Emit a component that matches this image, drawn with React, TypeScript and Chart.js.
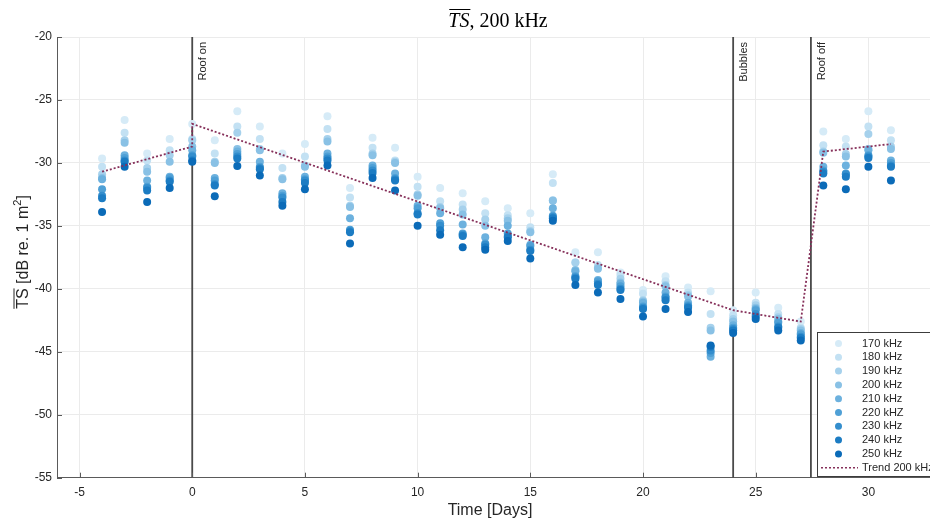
import React, { useEffect, useRef } from "react";
import { Chart, registerables } from "chart.js";

Chart.register(...registerables);

const days = [-4, -3, -2, -1, 0, 1, 2, 3, 4, 5, 6, 7, 8, 9, 10, 11, 12, 13, 14, 15, 16, 17, 18, 19, 20, 21, 22, 23, 24, 25, 26, 27, 28, 29, 30, 31];

const ts170 = [-29.65, -26.6, -29.25, -28.1, -26.9, -28.2, -25.9, -27.1, -29.25, -28.5, -26.3, -32.0, -28.0, -28.8, -31.1, -32.0, -32.4, -33.05, -33.6, -34.0, -30.9, -37.1, -37.1, -38.7, -40.1, -39.0, -39.9, -40.2, -41.7, -40.3, -41.5, -42.6, -27.5, -28.1, -25.9, -27.4];
const ts180 = [-30.3, -27.6, -29.8, -29.0, -28.1, -29.25, -27.1, -28.1, -30.4, -29.5, -27.3, -32.75, -28.8, -29.8, -31.9, -33.05, -33.3, -34.0, -34.15, -35.1, -31.6, -37.9, -38.1, -38.9, -40.4, -39.4, -40.3, -42.0, -42.1, -41.1, -42.0, -43.1, -28.6, -28.7, -27.1, -28.2];
const ts190 = [-30.9, -28.2, -30.4, -29.4, -28.2, -29.9, -27.6, -28.9, -31.2, -30.2, -28.1, -33.4, -29.25, -29.9, -32.5, -33.5, -33.7, -34.5, -34.4, -35.4, -32.97, -37.9, -38.3, -39.2, -40.9, -39.7, -40.5, -43.1, -42.4, -41.3, -42.25, -43.2, -29.1, -29.3, -27.7, -28.7];
const ts200 = [-31.2, -28.4, -30.7, -29.9, -28.7, -30.0, -28.9, -29.0, -31.3, -30.3, -28.3, -33.5, -29.4, -30.0, -32.6, -33.6, -34.1, -35.0, -34.6, -35.5, -33.0, -38.5, -38.4, -39.5, -41.0, -39.8, -40.6, -43.3, -42.6, -41.5, -42.4, -43.3, -29.2, -29.5, -28.9, -28.9];
const ts210 = [-31.3, -29.4, -31.4, -31.1, -29.0, -31.2, -29.1, -29.9, -32.4, -31.1, -29.25, -34.4, -30.2, -30.85, -33.4, -34.0, -34.9, -35.9, -35.0, -36.5, -33.6, -38.6, -39.3, -39.6, -41.1, -40.3, -41.1, -45.4, -42.9, -41.6, -42.6, -43.5, -30.3, -30.2, -29.0, -29.8];
const ts220 = [-32.1, -29.6, -31.9, -31.2, -29.4, -31.4, -29.3, -30.3, -32.6, -31.3, -29.5, -35.3, -30.4, -31.2, -33.6, -34.8, -35.6, -36.4, -35.6, -36.6, -34.2, -39.0, -39.4, -39.8, -41.4, -40.6, -41.3, -45.1, -43.1, -41.7, -42.7, -43.6, -30.6, -30.85, -29.4, -30.0];
const ts230 = [-32.6, -29.8, -32.0, -31.4, -29.5, -31.7, -29.5, -30.4, -32.75, -31.4, -29.65, -35.4, -30.6, -31.3, -34.0, -35.0, -35.7, -36.5, -35.8, -36.9, -34.3, -39.1, -39.6, -40.0, -41.5, -40.7, -41.4, -44.9, -43.2, -42.0, -43.0, -43.8, -30.7, -30.9, -29.5, -30.2];
const ts240 = [-32.8, -29.9, -32.2, -31.5, -29.8, -31.8, -29.65, -30.5, -33.1, -31.6, -29.8, -35.5, -30.8, -31.4, -34.1, -35.35, -35.8, -36.7, -35.9, -37.0, -34.4, -39.2, -39.7, -40.1, -41.6, -40.9, -41.5, -44.6, -43.3, -42.2, -43.1, -43.9, -30.85, -31.1, -29.6, -30.3];
const ts250 = [-33.9, -30.3, -33.1, -32.0, -29.9, -32.65, -30.25, -31.0, -33.4, -32.1, -30.2, -36.4, -31.2, -32.2, -35.0, -35.7, -36.7, -36.9, -36.2, -37.6, -34.6, -39.7, -40.3, -40.8, -42.2, -41.6, -41.85, -44.5, -43.5, -42.4, -43.3, -44.1, -31.8, -32.1, -30.3, -31.4];

const seriesValues = [ts170, ts180, ts190, ts200, ts210, ts220, ts230, ts240, ts250];
const seriesLabels = ["170 kHz", "180 kHz", "190 kHz", "200 kHz", "210 kHz", "220 kHZ", "230 kHz", "240 kHz", "250 kHz"];
const seriesColors = ["#d6ebf7", "#c3e1f3", "#a6d1ec", "#89c1e5", "#6cb1de", "#4fa0d6", "#348ecd", "#1c7cc3", "#0b6bb8"];

const trendDays = [-4, 0, 0, 24, 27, 28, 31];
const trendValues = [-30.7, -28.7, -26.9, -41.7, -42.6, -29.1, -28.5];
const trendLabel = "Trend 200 kHz";
const trendColor = "#86305a";

const eventDays = [0, 24, 27.45];
const eventLabels = ["Roof on", "Bubbles", "Roof off"];

const xTicks = [-5, 0, 5, 10, 15, 20, 25, 30];
const yTicks = [-55, -50, -45, -40, -35, -30, -25, -20];

const SANS = '"Liberation Sans", Arial, Helvetica, sans-serif';
const SERIF = '"Liberation Serif", "Times New Roman", serif';
const TEXT = "#262626";

const overlayPlugin = {
  id: "overlay",
  afterDraw(chart: any) {
    const ctx = chart.ctx;
    const xs = chart.scales.x;
    const ys = chart.scales.y;
    const area = chart.chartArea;
    ctx.save();

    // inner ticks
    ctx.strokeStyle = "#5a5a5a";
    ctx.lineWidth = 1;
    ctx.beginPath();
    xTicks.forEach((t) => {
      const px = Math.round(xs.getPixelForValue(t)) + 0.5;
      ctx.moveTo(px, area.bottom);
      ctx.lineTo(px, area.bottom - 5);
    });
    yTicks.forEach((t) => {
      const py = Math.round(ys.getPixelForValue(t)) + 0.5;
      ctx.moveTo(area.left, py);
      ctx.lineTo(area.left + 5, py);
    });
    ctx.stroke();

    // event labels
    ctx.fillStyle = TEXT;
    ctx.font = `11px ${SANS}`;
    ctx.textAlign = "right";
    ctx.textBaseline = "middle";
    eventDays.forEach((d, i) => {
      const px = xs.getPixelForValue(d);
      ctx.save();
      ctx.translate(px + 11, area.top + 5);
      ctx.rotate(-Math.PI / 2);
      ctx.fillText(eventLabels[i], 0, 0);
      ctx.restore();
    });

    // title
    ctx.textBaseline = "alphabetic";
    ctx.textAlign = "left";
    const tFont1 = `italic 20px ${SERIF}`;
    const tFont2 = `20px ${SERIF}`;
    ctx.font = tFont1;
    const w1 = ctx.measureText("TS").width;
    ctx.font = tFont2;
    const w2 = ctx.measureText(", 200 kHz").width;
    const tx = 498 - (w1 + w2) / 2;
    const ty = 27;
    ctx.fillStyle = "#000";
    ctx.font = tFont1;
    ctx.fillText("TS", tx, ty);
    ctx.font = tFont2;
    ctx.fillText(", 200 kHz", tx + w1, ty);
    ctx.strokeStyle = "#000";
    ctx.lineWidth = 1;
    ctx.beginPath();
    ctx.moveTo(tx + 1, 9.5);
    ctx.lineTo(tx + w1 + 1, 9.5);
    ctx.stroke();

    // x axis title
    ctx.fillStyle = TEXT;
    ctx.font = `16px ${SANS}`;
    ctx.textAlign = "center";
    ctx.textBaseline = "middle";
    ctx.fillText("Time [Days]", 490, 511);

    // y axis title
    ctx.save();
    ctx.translate(22, 252);
    ctx.rotate(-Math.PI / 2);
    const f1 = `16px ${SANS}`;
    const f2 = `11px ${SANS}`;
    ctx.font = f1;
    const a = "TS [dB re. 1 m";
    const wa = ctx.measureText(a).width;
    const wts = ctx.measureText("TS").width;
    ctx.font = f2;
    const wsup = ctx.measureText("2").width;
    ctx.font = f1;
    const wb = ctx.measureText("]").width;
    const total = wa + wsup + wb;
    let cx = -total / 2;
    ctx.textAlign = "left";
    ctx.textBaseline = "alphabetic";
    const base = 6;
    ctx.fillText(a, cx, base);
    ctx.strokeStyle = TEXT;
    ctx.lineWidth = 1;
    ctx.beginPath();
    ctx.moveTo(cx, base - 14);
    ctx.lineTo(cx + wts, base - 14);
    ctx.stroke();
    cx += wa;
    ctx.font = f2;
    ctx.fillText("2", cx, base - 7);
    cx += wsup;
    ctx.font = f1;
    ctx.fillText("]", cx, base);
    ctx.restore();

    // legend
    const lx = 817;
    const ly = 332;
    const lw = 130;
    const lh = 144;
    ctx.fillStyle = "#ffffff";
    ctx.fillRect(lx, ly, lw, lh);
    ctx.strokeStyle = "#3c3c3c";
    ctx.lineWidth = 1;
    ctx.strokeRect(lx + 0.5, ly + 0.5, lw, lh);
    ctx.font = `11px ${SANS}`;
    ctx.textAlign = "left";
    ctx.textBaseline = "middle";
    const rowH = 13.8;
    seriesLabels.forEach((lab, i) => {
      const yy = ly + 11.5 + i * rowH;
      ctx.fillStyle = seriesColors[i];
      ctx.beginPath();
      ctx.arc(838.5, yy, 3.5, 0, Math.PI * 2);
      ctx.fill();
      ctx.fillStyle = TEXT;
      ctx.fillText(lab, 862, yy);
    });
    const yyT = ly + 11.5 + 9 * rowH;
    ctx.strokeStyle = trendColor;
    ctx.lineWidth = 1.6;
    ctx.setLineDash([2, 2]);
    ctx.beginPath();
    ctx.moveTo(821, yyT);
    ctx.lineTo(858, yyT);
    ctx.stroke();
    ctx.setLineDash([]);
    ctx.fillStyle = TEXT;
    ctx.fillText(trendLabel, 862, yyT);

    ctx.restore();
  },
};

export default function App() {
  const ref = useRef<HTMLCanvasElement | null>(null);

  useEffect(() => {
    document.body.style.margin = "0";
    const canvas = ref.current;
    if (!canvas) return;

    const datasets: any[] = [];
    datasets.push({
      type: "scatter",
      label: trendLabel,
      data: trendDays.map((d, i) => ({ x: d, y: trendValues[i] })),
      showLine: true,
      borderColor: trendColor,
      borderWidth: 1.8,
      borderDash: [2, 2],
      pointRadius: 0,
      fill: false,
      order: 0,
    });
    seriesValues.forEach((vals, si) => {
      datasets.push({
        type: "scatter",
        label: seriesLabels[si],
        data: days.map((d, i) => ({ x: d, y: vals[i] })),
        backgroundColor: seriesColors[si],
        borderColor: seriesColors[si],
        borderWidth: 0,
        pointRadius: 4,
        pointStyle: "circle",
        order: 10 - si,
      });
    });
    eventDays.forEach((d, i) => {
      datasets.push({
        type: "scatter",
        label: eventLabels[i],
        data: [
          { x: d, y: -55 },
          { x: d, y: -20 },
        ],
        showLine: true,
        borderColor: "#4a4a4a",
        borderWidth: 1.8,
        pointRadius: 0,
        order: 20,
      });
    });

    const chart = new Chart(canvas, {
      type: "scatter",
      data: { datasets },
      options: {
        animation: false,
        responsive: false,
        devicePixelRatio: 1,
        layout: { padding: { left: 0, top: 37, right: 2, bottom: 0 } },
        plugins: {
          legend: { display: false },
          tooltip: { enabled: false },
          title: { display: false },
        },
        scales: {
          x: {
            type: "linear",
            min: -6,
            max: 33,
            afterFit: (s: any) => {
              s.height = 44.3;
            },
            ticks: {
              stepSize: 5,
              includeBounds: false,
              color: TEXT,
              font: { family: SANS, size: 12 },
              padding: 8,
              maxRotation: 0,
            },
            grid: { color: "#ebebeb", drawTicks: false, lineWidth: 1 },
            border: { display: true, color: "#5a5a5a", width: 1 },
          },
          y: {
            type: "linear",
            min: -55,
            max: -20,
            afterFit: (s: any) => {
              s.width = 57;
            },
            ticks: {
              stepSize: 5,
              color: TEXT,
              font: { family: SANS, size: 12 },
              padding: 5,
            },
            grid: { color: "#ebebeb", drawTicks: false, lineWidth: 1 },
            border: { display: true, color: "#5a5a5a", width: 1 },
          },
        },
      },
      plugins: [overlayPlugin],
    } as any);

    return () => chart.destroy();
  }, []);

  return (
    <div style={{ width: 930, height: 522, overflow: "hidden", position: "relative", background: "#fff" }}>
      <canvas ref={ref} width={940} height={522} style={{ width: 940, height: 522, display: "block" }} />
    </div>
  );
}
